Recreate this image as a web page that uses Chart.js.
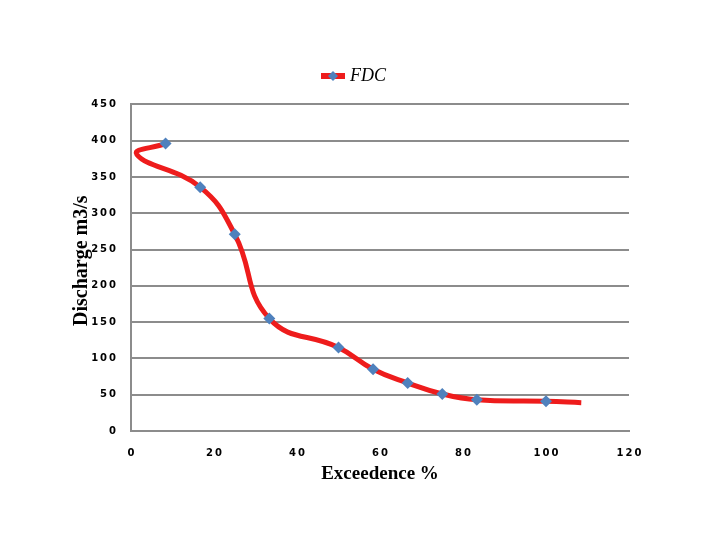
<!DOCTYPE html>
<html>
<head>
<meta charset="utf-8">
<script src="https://cdn.jsdelivr.net/npm/chart.js@4.4.1/dist/chart.umd.min.js"></script>
<style>
  html, body { margin: 0; padding: 0; background: #ffffff; }
  #wrap { width: 720px; height: 540px; }
</style>
</head>
<body>
<div id="wrap"><canvas id="fdc"></canvas></div>
<script>
// measured points (markers)
const exceedence = [8.33, 16.67, 25, 33.33, 50, 58.33, 66.67, 75, 83.33, 100];
const discharge = [396, 336, 271, 155, 115, 85, 66, 51, 43, 41];

// path of the smoothed curve as it appears (includes the loop at the start and the tail past 100)
const curveX = [8.33, 1.4, 16.67, 25, 33.33, 50, 58.33, 66.67, 75, 83.33, 100, 108.5];
const curveY = [396, 381, 336, 271, 155, 115, 85, 66, 51, 43, 41, 39];

const xTicks = [0, 20, 40, 60, 80, 100, 120];
const yTicks = [0, 50, 100, 150, 200, 250, 300, 350, 400, 450];

const lineRed = '#ee1c1c';
const markerBlue = '#4f81bd';
const gridGray = '#8c8c8c';

function toPoints(xs, ys) {
  var pts = [];
  for (var i = 0; i < xs.length; i++) {
    pts.push({ x: xs[i], y: ys[i] });
  }
  return pts;
}

// tick labels in the original are widely spaced
function spaced(value) {
  return String(value).split('').join('\u2009');
}

// small legend symbol: red line with a blue diamond
function legendSymbol() {
  var c = document.createElement('canvas');
  c.width = 24;
  c.height = 12;
  var g = c.getContext('2d');
  g.fillStyle = lineRed;
  g.fillRect(0, 3, 24, 6);
  g.fillStyle = markerBlue;
  g.beginPath();
  g.moveTo(12, 1);
  g.lineTo(17, 6);
  g.lineTo(12, 11);
  g.lineTo(7, 6);
  g.closePath();
  g.fill();
  return c;
}

window.addEventListener('DOMContentLoaded', function () {
  var ctx = document.getElementById('fdc').getContext('2d');
  var symbol = legendSymbol();
  var tickFont = { family: '"DejaVu Sans", sans-serif', size: 10, weight: 'bold' };

  new Chart(ctx, {
    type: 'scatter',
    data: {
      datasets: [
        {
          label: 'FDC',
          data: toPoints(exceedence, discharge),
          showLine: false,
          pointStyle: 'rectRot',
          pointRadius: 6,
          pointHoverRadius: 6,
          pointBackgroundColor: markerBlue,
          pointBorderColor: markerBlue,
          pointBorderWidth: 0
        },
        {
          label: 'curve',
          data: toPoints(curveX, curveY),
          showLine: true,
          borderColor: lineRed,
          borderWidth: 5,
          tension: 0.45,
          pointRadius: 0,
          pointHoverRadius: 0,
          fill: false
        }
      ]
    },
    options: {
      responsive: true,
      maintainAspectRatio: false,
      animation: false,
      layout: { padding: { top: 53, left: 0, right: 0, bottom: 0 } },
      plugins: {
        tooltip: { enabled: false },
        // empty spacer between the legend and the plot
        subtitle: {
          display: true,
          text: ' ',
          weight: 500,
          font: { size: 2 },
          padding: { top: 4, bottom: 3 }
        },
        legend: {
          display: true,
          position: 'top',
          labels: {
            usePointStyle: true,
            pointStyleWidth: 16,
            color: '#000000',
            padding: 14,
            font: { family: '"Liberation Serif", serif', size: 18, style: 'italic' },
            generateLabels: function (chart) {
              return [{
                text: 'FDC\u2002',
                pointStyle: symbol,
                fillStyle: markerBlue,
                strokeStyle: lineRed,
                lineWidth: 0,
                fontColor: '#000000',
                datasetIndex: 0,
                hidden: false
              }];
            }
          }
        }
      },
      scales: {
        x: {
          type: 'linear',
          min: 0,
          max: 120,
          afterFit: function (scale) { scale.height = 109; },
          afterBuildTicks: function (scale) {
            scale.ticks = xTicks.map(function (v) { return { value: v }; });
          },
          grid: { display: false, drawTicks: false },
          border: { display: true, color: gridGray, width: 2 },
          ticks: {
            padding: 16,
            color: '#000000',
            font: tickFont,
            callback: spaced
          },
          title: {
            display: true,
            text: 'Exceedence %',
            color: '#000000',
            padding: { top: 4, bottom: 55 },
            font: { family: '"Liberation Serif", serif', size: 19, weight: 'bold' }
          }
        },
        y: {
          type: 'linear',
          min: 0,
          max: 450,
          afterFit: function (scale) { scale.width = 131; },
          afterBuildTicks: function (scale) {
            scale.ticks = yTicks.map(function (v) { return { value: v }; });
          },
          grid: { display: true, drawTicks: false, color: gridGray, lineWidth: 2 },
          border: { display: true, color: gridGray, width: 2 },
          ticks: {
            padding: 15,
            color: '#000000',
            font: tickFont,
            callback: spaced
          },
          title: {
            display: true,
            text: '\u2002\u2009Discharge m3/s',
            color: '#000000',
            padding: { top: 70, bottom: 0 },
            font: { family: '"Liberation Serif", serif', size: 20, weight: 'bold' }
          }
        },
        yRight: {
          position: 'right',
          display: true,
          afterFit: function (scale) { scale.width = 91; },
          grid: { display: false, drawTicks: false },
          border: { display: false },
          ticks: { display: false }
        }
      }
    }
  });
});
</script>
</body>
</html>
